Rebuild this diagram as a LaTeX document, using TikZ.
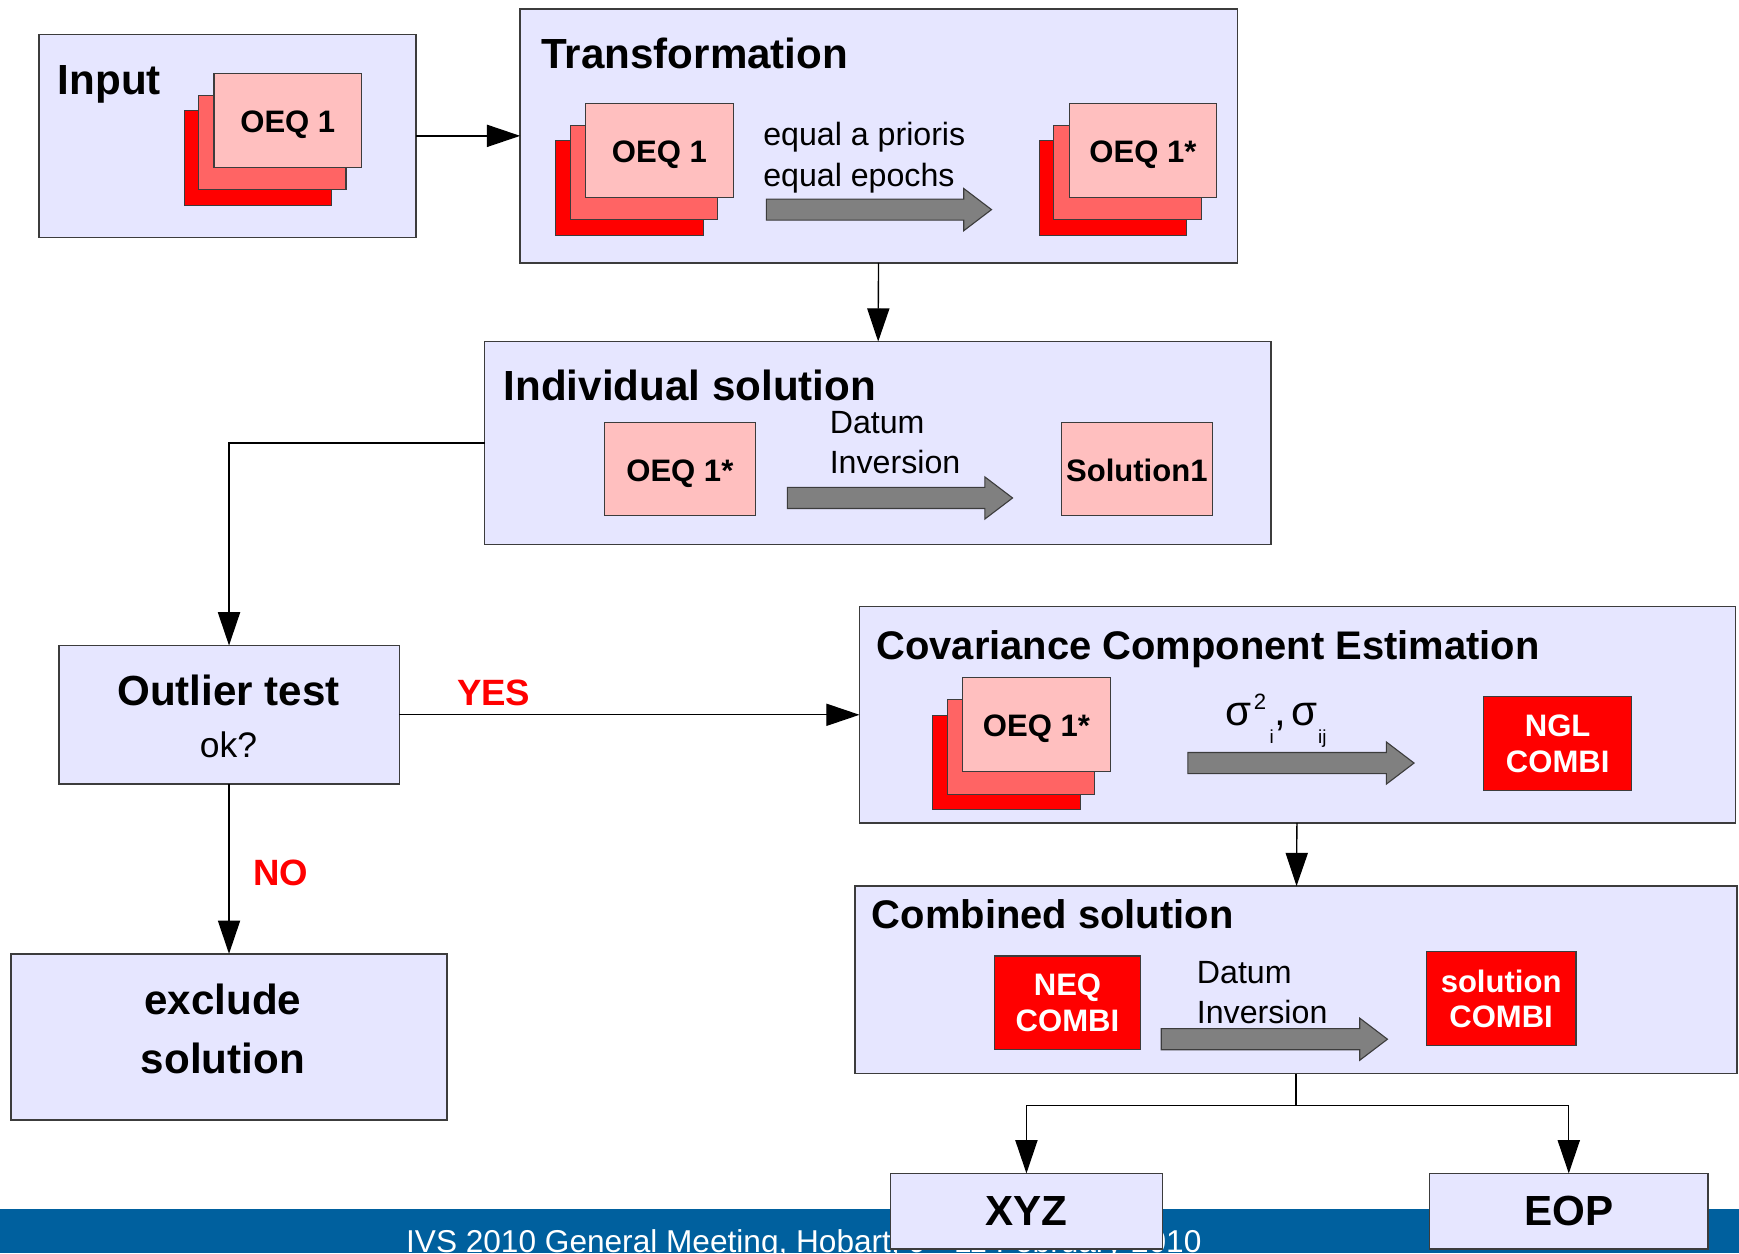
\documentclass[tikz,border=0pt]{standalone}
\usepackage{fontspec}
\setmainfont{Liberation Sans}
\usetikzlibrary{arrows.meta,calc}
\definecolor{lav}{RGB}{230,230,255}
\definecolor{pinkA}{RGB}{255,191,191}
\definecolor{pinkB}{RGB}{255,100,100}
\definecolor{redC}{RGB}{255,0,0}
\definecolor{footblue}{RGB}{0,96,158}
\definecolor{edge}{RGB}{60,60,60}
\definecolor{agray}{RGB}{128,128,128}
\newcommand{\fsz}[2]{\fontsize{#1}{#2}\selectfont}
\newcommand{\oeqstack}[4]{%
  \node[layerC, anchor=north west] (#1-c) at (#2-27,#3+34) {};
  \node[layerB, anchor=north west] (#1-b) at (#2-14,#3+20) {};
  \node[layerA, anchor=north west] (#1) at (#2,#3) {#4};
}
\newcommand{\grayarrow}[4]{%
  \draw[garrow] (#1,#4-9.5) -- (#2,#4-9.5) -- (#2,#4-19) -- (#3,#4) -- (#2,#4+19) -- (#2,#4+9.5) -- (#1,#4+9.5) -- cycle;
}
\tikzset{
  panel/.style={draw=edge, line width=1.3pt, fill=lav, inner sep=0pt, outer sep=0pt, anchor=north west},
  layerbase/.style={draw=edge, line width=1pt, minimum width=133pt, minimum height=85pt, inner sep=0pt, outer sep=0pt},
  layerA/.style={layerbase, fill=pinkA, font=\fsz{28}{32}\bfseries, text height=21.5pt, text depth=0pt},
  layerB/.style={layerbase, fill=pinkB},
  layerC/.style={layerbase, fill=redC},
  redbox/.style={layerbase, fill=redC, text=white, font=\fsz{28}{32}\bfseries, align=center, anchor=north west},
  title/.style={anchor=base west, inner sep=0pt, font=\fsz{38}{40}\bfseries},
  plain/.style={anchor=base west, inner sep=0pt, font=\fsz{29}{36}},
  conn/.style={draw=black, line width=1.2pt, -{Triangle[length=30pt,width=20pt]}},
  garrow/.style={draw=edge, line width=1pt, fill=agray},
  lbl/.style={text=redC, font=\fsz{33}{36}\bfseries, anchor=base west, inner sep=0pt}
}
\begin{document}
\begin{tikzpicture}[x=1pt,y=-1pt]
\useasboundingbox (0,0) rectangle (1568,1130);
\clip (0,0) rectangle (1568,1130);
% footer
\fill[footblue] (0,1090) rectangle (1568,1130);
\node[anchor=base west, inner sep=0pt, text=white, font=\fsz{28.5}{30}] (foot) at (366,1129) {IVS 2010 General Meeting, Hobart, 9 - 11 February 2010};

% panels
\node[panel, minimum width=340pt, minimum height=183pt] (input) at (35,31) {};
\node[panel, minimum width=647pt, minimum height=229pt] (trans) at (469,8) {};
\node[panel, minimum width=709pt, minimum height=183pt] (indiv) at (437,308) {};
\node[panel, minimum width=307pt, minimum height=125pt] (outlier) at (53,582) {};
\node[panel, minimum width=393pt, minimum height=150pt] (exclude) at (10,860) {};
\node[panel, minimum width=790pt, minimum height=195pt] (cce) at (775,547) {};
\node[panel, minimum width=795pt, minimum height=169pt] (comb) at (771,799) {};
\node[panel, minimum width=245pt, minimum height=68pt, font=\fsz{38}{40}\bfseries] (xyz) at (803,1058) {XYZ};
\node[panel, minimum width=251pt, minimum height=68pt, font=\fsz{38}{40}\bfseries] (eop) at (1289,1058) {EOP};

% titles
\node[title] (inputT) at (52,85) {Input};
\node[title] (transT) at (488,62) {Transformation};
\node[title] (indivT) at (454,361) {Individual solution};
\node[title, font=\fsz{36}{40}\bfseries] (cceT) at (790,595) {Covariance Component Estimation};
\node[title, font=\fsz{36}{40}\bfseries] (combT) at (786,837) {Combined solution};

\node[anchor=base, inner sep=0pt, font=\fsz{38}{40}\bfseries] (outT) at (206,636) {Outlier test};
\node[anchor=base, inner sep=0pt, font=\fsz{32}{34}] (okT) at (206,683) {ok?};
\node[anchor=base, inner sep=0pt, font=\fsz{38}{40}\bfseries] (exT1) at (201,915) {exclude};
\node[anchor=base, inner sep=0pt, font=\fsz{38}{40}\bfseries] (exT2) at (201,968) {solution};

% stacks
\oeqstack{inq}{193}{66}{OEQ 1}
\oeqstack{trl}{528}{93}{OEQ 1}
\oeqstack{trr}{964}{93}{OEQ 1*}
\oeqstack{ccq}{868}{611}{OEQ 1*}

% single boxes
\node[layerA, anchor=north west, minimum width=136pt, minimum height=84pt] (isq) at (545,381) {OEQ 1*};
\node[layerA, anchor=north west, minimum width=136pt, minimum height=84pt] (sol1) at (957,381) {Solution1};
\node[redbox] (ngl) at (1338,628) {NGL\\COMBI};
\node[redbox, minimum width=131pt, minimum height=84pt] (neq) at (897,862) {NEQ\\COMBI};
\node[redbox, minimum width=135pt] (solc) at (1286,858) {solution\\COMBI};

% gray arrows and their texts
\grayarrow{691}{869}{894}{189}
\node[plain] (eq1) at (688,131.5) {equal a prioris};
\node[plain] (eq2) at (688,168.5) {equal epochs};

\grayarrow{710}{888}{913}{449}
\node[plain] (dat1) at (748,391) {Datum};
\node[plain] (inv1) at (748,427) {Inversion};

\grayarrow{1071}{1250}{1275}{688}
\node[anchor=base west, inner sep=0pt, font=\fsz{38}{40}] (sig) at (1105,654)
  {σ\hspace{2pt}\raisebox{14pt}{\fsz{20}{20}2}\hspace{3pt}\raisebox{-16pt}{\fsz{17}{17}i}\hspace{1pt},\hspace{4pt}σ\hspace{1pt}\raisebox{-16pt}{\fsz{17}{17}ij}};

\grayarrow{1047}{1226}{1251}{937}
\node[plain] (dat2) at (1079,887) {Datum};
\node[plain] (inv2) at (1079,923) {Inversion};

% connectors
\draw[conn] (input) -- (trans);
\draw[conn] (trans) -- (indiv);
\draw[conn] (indiv.west) -| (outlier.north);
\draw[conn] (outlier) -- (cce);
\draw[conn] (outlier) -- (exclude);
\draw[conn] (cce) -- (comb);
\coordinate (split) at ($(comb.south)+(0,29)$);
\draw[line width=1.2pt] (comb.south) -- (split);
\draw[conn] (split) -| (xyz.north);
\draw[conn] (split) -| (eop.north);

\node[lbl] (yes) at (412,636) {YES};
\node[lbl] (no) at (228,798) {NO};
\end{tikzpicture}
\end{document}
